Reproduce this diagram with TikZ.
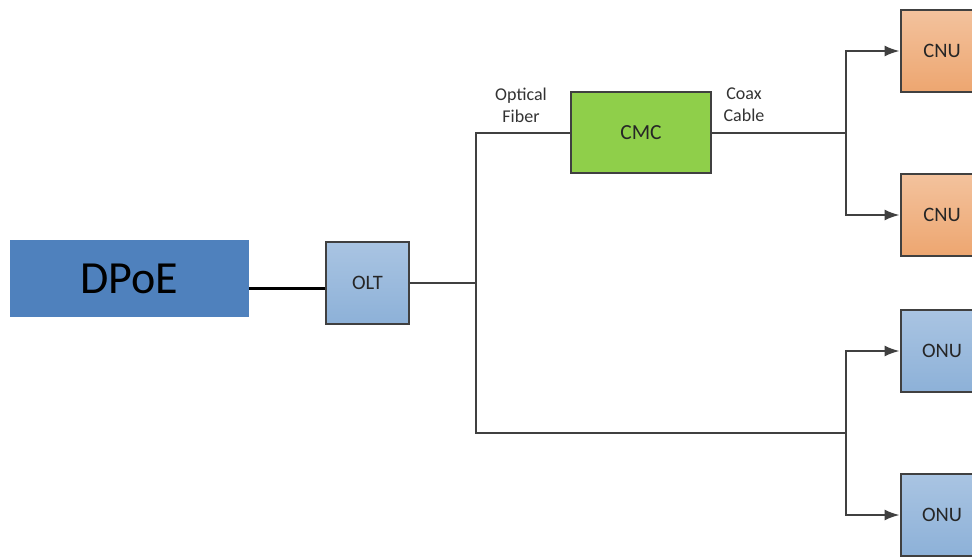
\documentclass[tikz,border=0pt]{standalone}
\usepackage{fontspec}
\setmainfont{Carlito}
\usetikzlibrary{arrows.meta}
\definecolor{dpoeblue}{HTML}{4F81BD}
\definecolor{ltbluetop}{HTML}{A9C4E2}
\definecolor{ltbluebot}{HTML}{8DB1D8}
\definecolor{orangetop}{HTML}{F3C29D}
\definecolor{orangebot}{HTML}{EDA670}
\definecolor{cmcgreen}{HTML}{8FCF4A}
\definecolor{edgegray}{HTML}{404040}
\tikzset{
  box/.style={draw=edgegray, line width=2pt, inner sep=0pt, minimum width=83pt, minimum height=82pt, font=\fontsize{20.5}{22}\selectfont, text=black!85},
  bluebox/.style={box, top color=ltbluetop, bottom color=ltbluebot},
  orangebox/.style={box, top color=orangetop, bottom color=orangebot},
  greenbox/.style={box, fill=cmcgreen, minimum width=140pt, minimum height=81pt, font=\fontsize{21.5}{23}\selectfont},
  dpoebox/.style={fill=dpoeblue, inner sep=0pt, minimum width=239pt, minimum height=77pt, font=\fontsize{46}{48}\selectfont},
  link/.style={draw=edgegray, line width=1.8pt},
  arr/.style={link, -{Latex[length=15pt,width=11pt]}},
  lbl/.style={font=\fontsize{18}{22}\selectfont, align=center, text=black!80}
}
\begin{document}
\begin{tikzpicture}[x=1pt,y=-1pt]
\clip (0,0) rectangle (972,557);
\fill[white] (0,0) rectangle (972,557);
\node[dpoebox] (dpoe) at (129.5,278.5) {DPoE};
\node[bluebox] (olt) at (367.5,283) {OLT};
\node[greenbox] (cmc) at (641,132.5) {CMC};
\node[orangebox] (cnu1) at (942,51) {CNU};
\node[orangebox] (cnu2) at (942,215) {CNU};
\node[bluebox] (onu1) at (942,351) {ONU};
\node[bluebox] (onu2) at (942,515) {ONU};
\coordinate (split) at (476,283);
\coordinate (cnusplit) at (846,133);
\coordinate (onusplit) at (846,433);
\draw[line width=3pt, black] (dpoe.east |- 0,288) -- (olt.west |- 0,288);
\draw[link] (olt.east |- split) -- (split);
\draw[link] (cmc.west |- 0,133) -- (split |- 0,133) -- (split |- 0,433) -- (onusplit);
\draw[link] (cmc.east |- 0,133) -- (cnusplit);
\draw[arr] (cnusplit) -- (cnusplit |- cnu1) -- (cnu1.west);
\draw[arr] (cnusplit) -- (cnusplit |- cnu2) -- (cnu2.west);
\draw[arr] (onusplit) -- (onusplit |- onu1) -- (onu1.west);
\draw[arr] (onusplit) -- (onusplit |- onu2) -- (onu2.west);
\node[lbl] (fiber) at (521,105) {Optical\\Fiber};
\node[lbl] (coax) at (744,105) {Coax\\Cable};
\end{tikzpicture}
\end{document}
